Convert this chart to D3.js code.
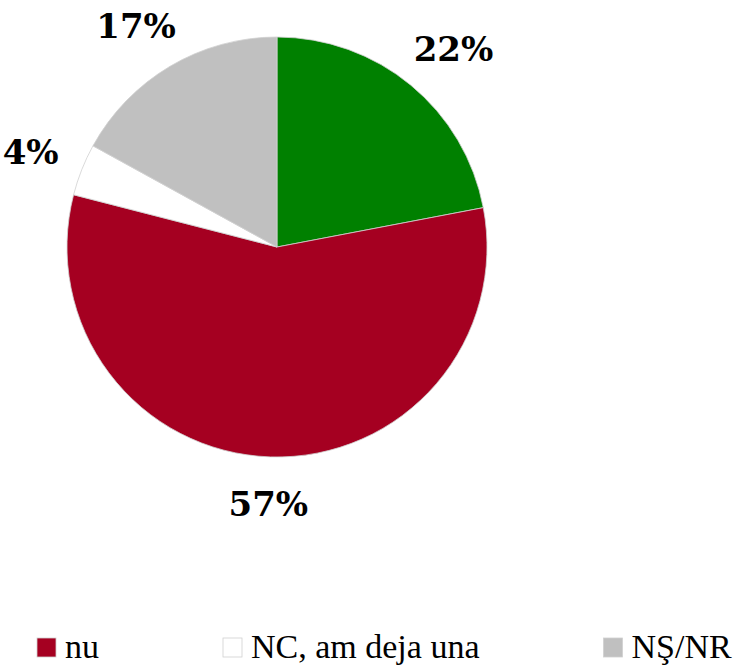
<html>
<head>
<script src="https://d3js.org/d3.v7.min.js"></script>
<style>
  body { margin: 0; background: #fff; }
  .legend text { font-family: "Liberation Serif", "Times New Roman", "DejaVu Serif"; }
</style>
</head>
<body>
<div id="chart"></div>
<script>
// slices in drawing order, clockwise from 12 o'clock
var categories = ["da", "nu", "NC, am deja una", "NŞ/NR"];
var values = [22, 57, 4, 17];
var colors = ["#008000", "#a50021", "#ffffff", "#c0c0c0"];
// legend shows only these entries
var legendItems = ["nu", "NC, am deja una", "NŞ/NR"];

var width = 742, height = 665;
var cx = 277, cy = 247, radius = 210;

var svg = d3.select("#chart").append("svg")
  .attr("width", width)
  .attr("height", height);

var data = categories.map(function(c, i) {
  return { name: c, value: values[i], color: colors[i] };
});

var pie = d3.pie()
  .sort(null)
  .value(function(d) { return d.value; });

var arc = d3.arc()
  .innerRadius(0)
  .outerRadius(radius);

var g = svg.append("g")
  .attr("transform", "translate(" + cx + "," + cy + ")");

var arcs = pie(data);

g.selectAll("path")
  .data(arcs)
  .enter().append("path")
  .attr("d", arc)
  .attr("fill", function(d) { return d.data.color; })
  .attr("stroke", "#d0d0d0")
  .attr("stroke-width", 0.8);

// outside-end labels: box pushed outward from a ring
var labelR = 237;
var labels = g.selectAll(".lbl")
  .data(arcs)
  .enter().append("text")
  .attr("class", "lbl")
  .attr("text-anchor", "middle")
  .attr("dominant-baseline", "central")
  .style("font-family", "'DejaVu Serif', serif")
  .style("font-weight", "bold")
  .style("font-size", "34px")
  .attr("fill", "#000")
  .text(function(d) { return d.data.value + "%"; });

labels.each(function(d) {
  var a = (d.startAngle + d.endAngle) / 2;
  var ux = Math.sin(a), uy = -Math.cos(a);
  var bb = this.getBBox();
  var x = labelR * ux + bb.width / 2 * ux;
  var y = labelR * uy + bb.height / 2 * uy;
  d3.select(this).attr("x", x).attr("y", y);
});

// legend, flowed left to right
var colorOf = {};
data.forEach(function(d) { colorOf[d.name] = d.color; });

var legend = svg.append("g").attr("class", "legend");
var lx = 37, ly = 638, box = 19, gap = 124;

legendItems.forEach(function(name) {
  var item = legend.append("g").attr("transform", "translate(" + lx + "," + ly + ")");
  item.append("rect")
    .attr("width", box)
    .attr("height", box)
    .attr("fill", colorOf[name])
    .attr("stroke", "#d0d0d0")
    .attr("stroke-width", 0.8);
  var t = item.append("text")
    .attr("x", box + 9)
    .attr("y", box + 1)
    .style("font-size", "34px")
    .attr("fill", "#000")
    .text(name);
  lx += box + 9 + t.node().getComputedTextLength() + gap;
});
</script>
</body>
</html>
